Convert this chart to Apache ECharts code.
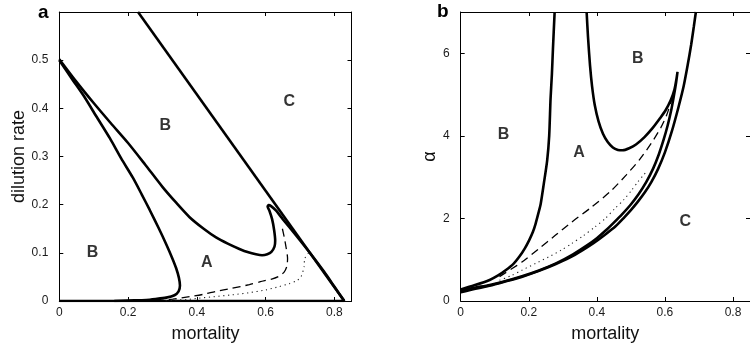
<!DOCTYPE html>
<html><head><meta charset="utf-8">
<script src="https://cdn.jsdelivr.net/npm/echarts@6/dist/echarts.min.js"></script>
<style>html,body{margin:0;padding:0;background:#fff}#c{width:750px;height:348px}</style>
</head><body><div id="c"></div>
<script>
// ---------- Panel a : dilution rate vs mortality ----------
const aLineC = [[0.229,0.6],[0.829,0]];
const aUpper = [[0,0.502],[0.05,0.455],[0.10,0.411],[0.15,0.369],[0.20,0.328],[0.25,0.283],[0.30,0.237],[0.34,0.204],[0.379,0.174],[0.42,0.150],[0.456,0.132],[0.49,0.119],[0.524,0.108],[0.55,0.101],[0.572,0.097],[0.59,0.095],[0.605,0.097],[0.617,0.102],[0.626,0.113],[0.628,0.125],[0.625,0.147],[0.619,0.170],[0.611,0.188],[0.606,0.196],[0.609,0.199],[0.616,0.197],[0.63,0.188],[0.65,0.170],[0.69,0.135],[0.73,0.099],[0.77,0.061],[0.80,0.030],[0.829,0]];
const aLower = [[0,0.5],[0.035,0.463],[0.070,0.427],[0.108,0.383],[0.147,0.338],[0.18,0.296],[0.214,0.256],[0.24,0.221],[0.263,0.189],[0.29,0.150],[0.311,0.118],[0.328,0.090],[0.340,0.068],[0.348,0.048],[0.351,0.032],[0.347,0.020],[0.335,0.012],[0.311,0.007],[0.28,0.004],[0.253,0.002],[0.2,0.001],[0.16,0]];
const aBase = [[0,0],[0.829,0]];
const aDashed = [[0.649,0.150],[0.655,0.130],[0.660,0.110],[0.664,0.088],[0.662,0.072],[0.654,0.060],[0.638,0.051],[0.620,0.046],[0.585,0.040],[0.553,0.034],[0.50,0.026],[0.456,0.020],[0.42,0.014],[0.379,0.009],[0.33,0.004],[0.29,0.001]];
const aDotted = [[0.725,0.100],[0.714,0.088],[0.712,0.071],[0.703,0.050],[0.69,0.042],[0.669,0.036],[0.64,0.030],[0.601,0.023],[0.55,0.017],[0.504,0.013],[0.45,0.009],[0.408,0.006],[0.37,0.003],[0.34,0.002],[0.30,0]];
const aRegions = [['C',0.669,0.415],['B',0.308,0.364],['B',0.097,0.100],['A',0.429,0.080]];

// ---------- Panel b : alpha vs mortality ----------
const bLeft = [[0,0.28],[0.04,0.38],[0.085,0.51],[0.11,0.62],[0.133,0.75],[0.155,0.90],[0.172,1.07],[0.188,1.27],[0.201,1.47],[0.212,1.67],[0.220,1.87],[0.229,2.15],[0.235,2.35],[0.244,2.83],[0.254,3.40],[0.260,4.0],[0.264,4.9],[0.268,5.5],[0.271,6.1],[0.276,7.0]];
const bLoop = [[0.370,7.0],[0.374,6.4],[0.380,5.7],[0.386,5.2],[0.394,4.74],[0.405,4.35],[0.418,4.05],[0.432,3.85],[0.447,3.72],[0.462,3.66],[0.476,3.65],[0.495,3.70],[0.515,3.79],[0.54,3.97],[0.563,4.18],[0.585,4.42],[0.602,4.62],[0.617,4.86],[0.628,5.12],[0.634,5.38],[0.637,5.55],[0.633,5.3],[0.626,4.95],[0.618,4.6],[0.608,4.25],[0.596,3.9],[0.582,3.55],[0.565,3.2],[0.545,2.88],[0.522,2.58],[0.498,2.32],[0.474,2.1],[0.45,1.9],[0.425,1.7],[0.40,1.52],[0.37,1.34],[0.33,1.13],[0.28,0.91],[0.23,0.74],[0.18,0.60],[0.13,0.48],[0.085,0.39],[0.04,0.32],[0,0.25]];
const bOuter = [[0,0.21],[0.04,0.29],[0.085,0.37],[0.13,0.47],[0.181,0.59],[0.23,0.73],[0.278,0.89],[0.32,1.05],[0.356,1.22],[0.39,1.40],[0.423,1.60],[0.455,1.81],[0.48,2.02],[0.50,2.2],[0.52,2.4],[0.54,2.62],[0.56,2.88],[0.58,3.2],[0.60,3.6],[0.62,4.1],[0.64,4.7],[0.655,5.2],[0.667,5.72],[0.677,6.2],[0.685,6.65],[0.691,7.0]];
const bDashed = [[0.114,0.59],[0.15,0.78],[0.181,0.95],[0.230,1.27],[0.278,1.59],[0.326,1.91],[0.384,2.27],[0.442,2.67],[0.486,3.05],[0.525,3.42],[0.56,3.82],[0.588,4.2],[0.605,4.5],[0.618,4.82]];
const bDotted = [[0.114,0.50],[0.15,0.62],[0.181,0.75],[0.22,0.91],[0.259,1.07],[0.295,1.23],[0.326,1.39],[0.36,1.58],[0.394,1.79],[0.425,2.0],[0.452,2.23],[0.48,2.46],[0.501,2.67],[0.52,2.88],[0.535,3.03],[0.548,3.15]];
const bRegions = [['B',0.520,5.87],['B',0.126,4.03],['A',0.348,3.60],['C',0.660,1.93]];

// ---------- Axes ----------
const xRange = [0, 0.85], xStep = 0.2;
const aYRange = [0, 0.6], aYStep = 0.1;
const bYRange = [0, 7], bYStep = 2;

const FONT = 'Liberation Sans, Arial, Helvetica, sans-serif';
function axis(kind, grid, pos, range, step, labels, name, gap) {
  return {
    type: 'value', gridIndex: grid, position: pos, min: range[0], max: range[1], interval: step,
    axisLine: {show: true, onZero: false, lineStyle: {color: '#000', width: 1}},
    axisTick: {show: true, inside: true, length: 4, lineStyle: {color: '#000', width: 1}},
    axisLabel: {show: labels, showMaxLabel: false, fontSize: 12, color: '#1a1a1a', fontFamily: FONT,
                margin: kind === 'x' ? 6 : 11},
    splitLine: {show: false},
    name: name || '', nameLocation: 'middle', nameGap: gap || 0,
    nameTextStyle: {fontSize: 18, color: '#111', fontFamily: FONT}
  };
}
const thick = {color: '#000', width: 2.6};
function ln(data, xi, yi, style) {
  return {type: 'line', xAxisIndex: xi, yAxisIndex: yi, data: data, symbol: 'none', showSymbol: false,
          smooth: 0.25, lineStyle: style, clip: true, silent: true, z: 3};
}
function regions(list, xi, yi) {
  return {type: 'scatter', xAxisIndex: xi, yAxisIndex: yi, symbolSize: 0, silent: true, z: 5,
          data: list.map(r => ({name: r[0], value: [r[1], r[2]]})),
          label: {show: true, position: 'inside', formatter: p => p.name, fontSize: 16, fontWeight: 'bold',
                  color: '#000', fontFamily: FONT}};
}
const dashed = {color: '#000', width: 1.3, type: [8, 5]};
const dotted = {color: '#222', width: 1.1, type: [1.2, 3.6]};

const chart = echarts.init(document.getElementById('c'), null, {renderer: 'canvas'});
chart.setOption({
  animation: false,
  backgroundColor: '#fff',
  grid: [
    {left: 59.3, top: 12, width: 292.2, height: 292.5},
    {left: 460.7, top: 12, width: 293.3, height: 292.5}
  ],
  xAxis: [
    axis('x', 0, 'bottom', xRange, xStep, true, 'mortality', 24),
    axis('x', 0, 'top', xRange, xStep, false),
    axis('x', 1, 'bottom', xRange, xStep, true, 'mortality', 24),
    axis('x', 1, 'top', xRange, xStep, false)
  ],
  yAxis: [
    axis('y', 0, 'left', aYRange, aYStep, true, 'dilution rate', 31),
    axis('y', 0, 'right', aYRange, aYStep, false),
    axis('y', 1, 'left', bYRange, bYStep, true, 'α', 14),
    axis('y', 1, 'right', bYRange, bYStep, false)
  ],
  graphic: [
    {type: 'text', left: 38, top: 3, style: {text: 'a', fontSize: 19, fontWeight: 'bold', fill: '#000', fontFamily: FONT}},
    {type: 'text', left: 437, top: 2, style: {text: 'b', fontSize: 19, fontWeight: 'bold', fill: '#000', fontFamily: FONT}}
  ],
  series: [
    ln(aBase, 0, 0, thick),
    ln(aLineC, 0, 0, thick),
    ln(aUpper, 0, 0, thick),
    ln(aLower, 0, 0, thick),
    ln(aDashed, 0, 0, dashed),
    ln(aDotted, 0, 0, dotted),
    regions(aRegions, 0, 0),
    ln(bLeft, 2, 2, thick),
    ln(bLoop, 2, 2, thick),
    ln(bOuter, 2, 2, thick),
    ln(bDashed, 2, 2, dashed),
    ln(bDotted, 2, 2, dotted),
    regions(bRegions, 2, 2)
  ]
});
</script></body></html>
